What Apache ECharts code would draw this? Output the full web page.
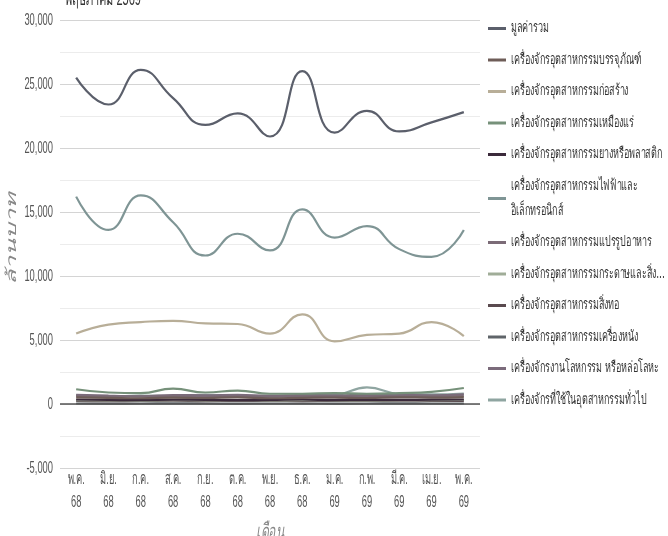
<!DOCTYPE html>
<html><head><meta charset="utf-8">
<script src="https://cdn.jsdelivr.net/npm/echarts@6/dist/echarts.min.js"></script>
<style>html,body{margin:0;padding:0;background:#fff}#c{width:668px;height:536px}</style>
</head><body><div id="c"></div>
<script>
const months = ['พ.ค.\n68','มิ.ย.\n68','ก.ค.\n68','ส.ค.\n68','ก.ย.\n68','ต.ค.\n68','พ.ย.\n68','ธ.ค.\n68','ม.ค.\n69','ก.พ.\n69','มี.ค.\n69','เม.ย.\n69','พ.ค.\n69'];
const seriesNames = ['มูลค่ารวม','เครื่องจักรอุตสาหกรรมบรรจุภัณฑ์','เครื่องจักรอุตสาหกรรมก่อสร้าง','เครื่องจักรอุตสาหกรรมเหมืองแร่','เครื่องจักรอุตสาหกรรมยางหรือพลาสติก','เครื่องจักรอุตสาหกรรมไฟฟ้าและ อิเล็กทรอนิกส์','เครื่องจักรอุตสาหกรรมแปรรูปอาหาร','เครื่องจักรอุตสาหกรรมกระดาษและสิ่งพิมพ์','เครื่องจักรอุตสาหกรรมสิ่งทอ','เครื่องจักรอุตสาหกรรมเครื่องหนัง','เครื่องจักรงานโลหกรรม หรือหล่อโลหะ','เครื่องจักรที่ใช้ในอุตสาหกรรมทั่วไป'];
const total        = [25500,23400,26100,23900,21800,22700,20900,26000,21200,22900,21300,22000,22800];
const packaging    = [520,480,450,500,470,520,450,480,500,470,520,500,540];
const construction = [5500,6200,6400,6500,6300,6250,5500,7000,4900,5400,5500,6400,5300];
const mining       = [1150,900,850,1200,900,1050,800,800,850,800,850,950,1250];
const rubber       = [350,320,300,340,330,300,320,350,310,330,320,340,350];
const electric     = [16200,13600,16300,14200,11600,13300,12000,15200,13000,13900,12100,11500,13600];
const food         = [620,580,600,640,560,600,580,620,600,640,600,620,650];
const paper        = [300,280,270,300,290,310,280,300,290,280,300,310,320];
const textile      = [250,230,240,260,230,250,240,230,250,240,260,250,240];
const leather      = [40,35,40,45,40,35,40,40,35,40,45,40,40];
const metal        = [720,650,600,700,680,720,650,700,680,720,700,680,760];
const general      = [700,600,650,620,720,650,600,650,700,1300,800,750,820];
const colors = ['#5b5f6b','#6e5d58','#b8ae98','#76917a','#3b2a3b','#7f9595','#7b6b77','#a0ad98','#5a4a4f','#5f6469','#7b6b7b','#8fa5a1'];
const values = [total,packaging,construction,mining,rubber,electric,food,paper,textile,leather,metal,general];

// Condensed text look: squeeze glyphs horizontally (screen x) around their anchor.
const FONT_A = '"Liberation Sans",sans-serif';
const FONT_L = '"DejaVu Sans","Liberation Sans",sans-serif';
(function(){
  const P = CanvasRenderingContext2D.prototype;
  const fT = P.fillText, sT = P.strokeText, mT = P.measureText;
  function sx(ctx){ const f = ctx.font || ''; if (f.indexOf('DejaVu') >= 0) return 0.6; if (f.indexOf('Liberation') >= 0) return 0.55; return 1; }
  function wrap(orig){
    return function(t, x, y, mw){
      const s = sx(this);
      if (s === 1) return mw === undefined ? orig.call(this, t, x, y) : orig.call(this, t, x, y, mw);
      const T = this.getTransform();
      const p = T.transformPoint(new DOMPoint(x, y));
      const M = new DOMMatrix().translate(p.x, p.y).scale(s, 1).translate(-p.x, -p.y).multiply(T);
      this.save(); this.setTransform(M); orig.call(this, t, x, y); this.restore();
    };
  }
  P.fillText = wrap(fT); P.strokeText = wrap(sT);
  P.measureText = function(t){
    const m = mT.call(this, t); const s = sx(this);
    if (s === 1) return m;
    return { width: m.width * s,
      actualBoundingBoxLeft: m.actualBoundingBoxLeft * s, actualBoundingBoxRight: m.actualBoundingBoxRight * s,
      actualBoundingBoxAscent: m.actualBoundingBoxAscent, actualBoundingBoxDescent: m.actualBoundingBoxDescent,
      fontBoundingBoxAscent: m.fontBoundingBoxAscent, fontBoundingBoxDescent: m.fontBoundingBoxDescent };
  };
})();

const chart = echarts.init(document.getElementById('c'), null, {renderer:'canvas'});
const series = seriesNames.map((n,i)=>({
  name:n, type:'line', smooth:true, symbol:'none', data:values[i],
  lineStyle:{width: 2.2, color:colors[i]}, itemStyle:{color:colors[i]},
  z: 12-i,
  markLine: i===0 ? {silent:true, symbol:'none', label:{show:false},
    lineStyle:{color:'#555', width:1.6, type:'solid'}, data:[{yAxis:0}]} : undefined
}));
chart.setOption({
  animation:false,
  title:{text:'พฤษภาคม 2569', left:60, top:-11, textStyle:{fontFamily:FONT_A, fontSize:20, fontWeight:'normal', color:'#333'}},
  grid:{left:60, right:188, top:20, bottom:68, containLabel:false, outerBoundsMode:'none'},
  legend:{orient:'vertical', left:488, top:16, padding:0, icon:'rect', itemWidth:18, itemHeight:3, itemGap:6.5,
    textStyle:{fontFamily:FONT_L, fontSize:15, color:'#333', lineHeight:25},
    formatter:function(n){
      if(n.indexOf('ไฟฟ้า')>=0) return 'เครื่องจักรอุตสาหกรรมไฟฟ้าและ\nอิเล็กทรอนิกส์';
      if(n.indexOf('กระดาษ')>=0) return 'เครื่องจักรอุตสาหกรรมกระดาษและสิ่ง...';
      return n;
    }},
  xAxis:{type:'category', data:months, boundaryGap:true,
    axisLine:{show:false}, axisTick:{show:false},
    axisLabel:{fontFamily:FONT_A, fontSize:17, color:'#555', lineHeight:23, margin:0, interval:0},
    name:'เดือน', nameLocation:'middle', nameGap:59,
    nameTextStyle:{fontFamily:FONT_A, fontSize:22, fontStyle:'italic', color:'#888'}},
  yAxis:{type:'value', min:-5000, max:30000, interval:5000,
    axisLine:{show:false}, axisTick:{show:false},
    axisLabel:{fontFamily:FONT_A, fontSize:17, color:'#555', margin:7,
      formatter:v=>v.toLocaleString('en-US')},
    splitLine:{lineStyle:{color:'#d4d4d4', width:1}},
    minorTick:{show:false, splitNumber:2},
    minorSplitLine:{show:true, lineStyle:{color:'#ececec', width:1}},
    name:'ล้านบาท', nameLocation:'middle', nameGap:41, nameRotate:90, nameMoveOverlap:false,
    nameTextStyle:{fontFamily:FONT_A, fontSize:25, fontStyle:'italic', color:'#888', padding:[0,0,0,10]}},
  series:series
});
</script></body></html>
